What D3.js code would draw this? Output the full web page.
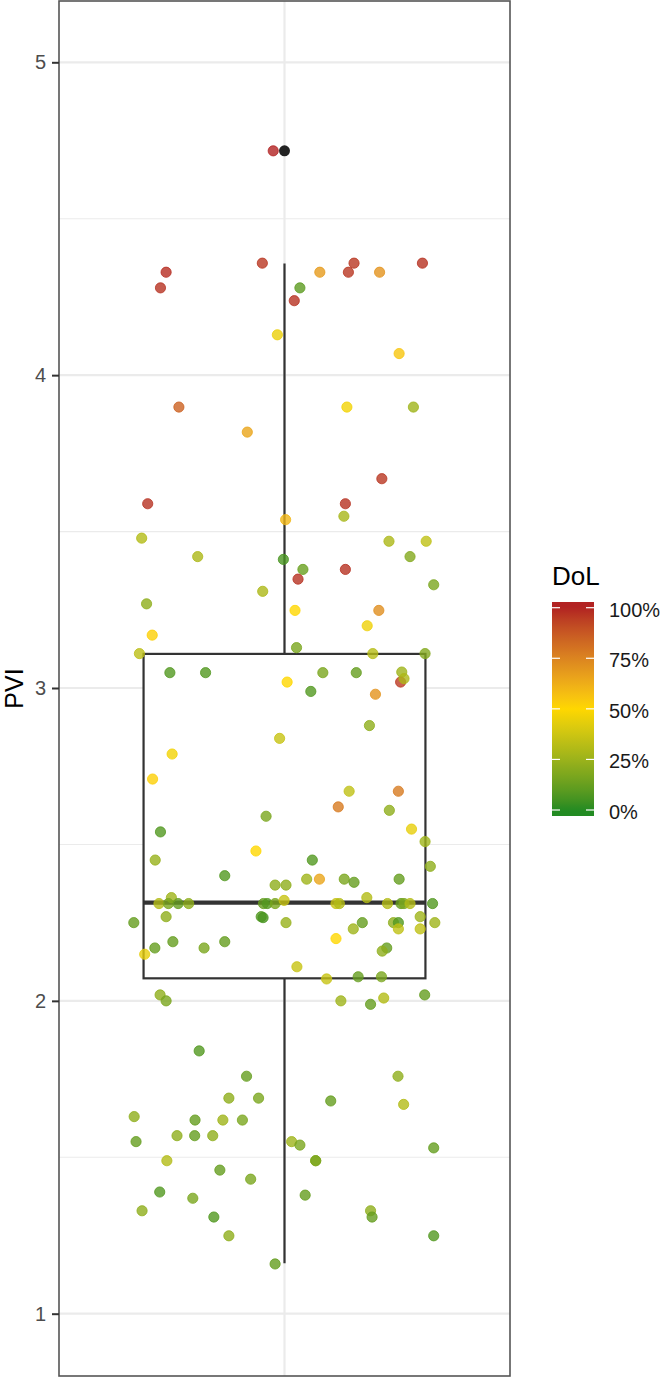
<!DOCTYPE html>
<html>
<head>
<meta charset="utf-8">
<script src="https://cdn.jsdelivr.net/npm/d3@7"></script>
<style>
  html, body { margin: 0; padding: 0; background: #fff; }
  svg { display: block; font-family: "Liberation Sans", Arial, Helvetica, sans-serif; }
</style>
</head>
<body>
<svg id="chart" width="664" height="1377"></svg>
<script>
// ---- Data ----
const yTicks = [1, 2, 3, 4, 5];
const yMinor = [1.5, 2.5, 3.5, 4.5];
const legendTicks = [0, 0.25, 0.5, 0.75, 1];
const legendLabels = ["0%", "25%", "50%", "75%", "100%"];
// boxplot statistics: [lower whisker, Q1, median, Q3, upper whisker]
const boxStats = [1.161, 2.072, 2.314, 3.109, 4.357];
const outliers = [4.717];

// jittered x offset, PVI value, DoL value
const jitter = [
 -0.030,-0.315,-0.330,-0.059, 0.094, 0.185, 0.170, 0.253, 0.367, 0.041,
  0.026,-0.019, 0.305,-0.281,-0.099, 0.166, 0.343, 0.259,-0.364, 0.162,
  0.158, 0.003,-0.380, 0.278, 0.377,-0.231,-0.003, 0.334, 0.049, 0.036,
  0.162, 0.397,-0.058,-0.367, 0.028, 0.251, 0.220,-0.352, 0.032,-0.386,
  0.235, 0.374,-0.305,-0.210, 0.102, 0.191, 0.312, 0.309, 0.318, 0.007,
  0.070, 0.242, 0.226,-0.013,-0.299,-0.351, 0.172, 0.303, 0.143, 0.279,
 -0.049, 0.338, 0.374,-0.330,-0.076,-0.344, 0.074, 0.388,-0.159, 0.059,
  0.093, 0.159, 0.185, 0.305,-0.025, 0.004,-0.334,-0.301,-0.309,-0.283,
 -0.255,-0.056,-0.046,-0.025,-0.001, 0.137, 0.146, 0.219, 0.274, 0.310,
  0.318, 0.334, 0.394,-0.401,-0.315,-0.062,-0.057, 0.004, 0.207, 0.290,
  0.303, 0.361, 0.400, 0.183, 0.303, 0.361, 0.137,-0.297,-0.159,-0.345,
 -0.214,-0.372, 0.272, 0.260, 0.033, 0.112, 0.196, 0.258,-0.331,-0.315,
  0.150, 0.229, 0.264, 0.373,-0.227,-0.101, 0.302,-0.148,-0.069, 0.123,
  0.317,-0.400,-0.238,-0.164,-0.112,-0.395,-0.286,-0.239,-0.191, 0.019,
  0.041, 0.397,-0.313, 0.083, 0.083,-0.172,-0.090,-0.332,-0.244, 0.055,
 -0.379, 0.229, 0.233,-0.188,-0.148, 0.397,-0.025
];
const pvi = [
 4.717,4.329,4.279,4.358,4.329,4.358,4.329,4.329,4.358,4.279,
 4.238,4.129,4.069,3.898,3.818,3.898,3.898,3.669,3.589,3.589,
 3.549,3.538,3.479,3.469,3.469,3.420,3.411,3.420,3.379,3.348,
 3.379,3.330,3.309,3.269,3.248,3.248,3.199,3.169,3.129,3.110,
 3.110,3.110,3.049,3.049,3.049,3.049,3.051,3.019,3.030,3.019,
 2.989,2.980,2.880,2.839,2.789,2.709,2.670,2.670,2.620,2.609,
 2.590,2.549,2.509,2.540,2.479,2.450,2.450,2.430,2.400,2.389,
 2.389,2.389,2.379,2.389,2.370,2.370,2.311,2.330,2.311,2.311,
 2.311,2.311,2.311,2.311,2.321,2.311,2.311,2.330,2.311,2.311,
 2.311,2.311,2.311,2.250,2.269,2.269,2.266,2.250,2.250,2.250,
 2.250,2.269,2.250,2.230,2.230,2.230,2.199,2.189,2.189,2.169,
 2.169,2.149,2.169,2.159,2.109,2.070,2.077,2.077,2.019,2.000,
 2.000,1.989,2.009,2.019,1.840,1.759,1.759,1.689,1.689,1.680,
 1.669,1.630,1.619,1.619,1.619,1.550,1.569,1.569,1.569,1.550,
 1.539,1.530,1.489,1.489,1.489,1.459,1.430,1.389,1.369,1.379,
 1.329,1.329,1.309,1.309,1.249,1.249,1.159
];
const dol = [
 1.00,0.98,0.97,0.96,0.68,0.96,0.96,0.70,0.97,0.10,
 0.97,0.45,0.55,0.85,0.65,0.47,0.26,0.96,0.97,0.97,
 0.28,0.60,0.31,0.29,0.34,0.29,0.06,0.19,0.13,0.97,
 0.97,0.17,0.29,0.22,0.50,0.72,0.46,0.52,0.17,0.33,
 0.32,0.19,0.08,0.08,0.17,0.12,0.26,0.95,0.29,0.50,
 0.08,0.70,0.22,0.36,0.47,0.52,0.34,0.78,0.78,0.22,
 0.17,0.44,0.26,0.08,0.50,0.24,0.08,0.22,0.08,0.26,
 0.65,0.17,0.12,0.12,0.22,0.22,0.31,0.26,0.17,0.12,
 0.22,0.12,0.08,0.17,0.36,0.36,0.31,0.31,0.31,0.12,
 0.17,0.31,0.08,0.12,0.22,0.08,0.06,0.24,0.12,0.22,
 0.08,0.26,0.26,0.26,0.34,0.34,0.50,0.12,0.12,0.12,
 0.17,0.44,0.12,0.22,0.36,0.36,0.12,0.17,0.22,0.17,
 0.26,0.12,0.31,0.12,0.08,0.12,0.22,0.22,0.17,0.12,
 0.31,0.22,0.12,0.26,0.17,0.12,0.22,0.12,0.22,0.26,
 0.17,0.12,0.31,0.22,0.17,0.12,0.17,0.08,0.17,0.12,
 0.22,0.22,0.12,0.08,0.22,0.08,0.12
];

// ---- Layout ----
const svg = d3.select("#chart");
const panel = { left: 59, right: 510, top: 1, bottom: 1376 };

const x = d3.scaleLinear().domain([0.4, 1.6]).range([panel.left, panel.right]);
const y = d3.scaleLinear().domain([1, 5]).range([1313.7, 62.3]);
const color = d3.scaleLinear()
  .domain([0, 0.5, 1])
  .range(["#228B22", "#FFD700", "#B22222"])
  .interpolate(d3.interpolateLab)
  .clamp(true);

// panel background
svg.append("rect")
  .attr("x", panel.left).attr("y", panel.top)
  .attr("width", panel.right - panel.left).attr("height", panel.bottom - panel.top)
  .attr("fill", "#fff");

// grid
const grid = svg.append("g");
grid.selectAll("line.minor").data(yMinor).join("line")
  .attr("x1", panel.left).attr("x2", panel.right)
  .attr("y1", d => y(d)).attr("y2", d => y(d))
  .attr("stroke", "#EBEBEB").attr("stroke-width", 1.1);
grid.selectAll("line.major").data(yTicks).join("line")
  .attr("x1", panel.left).attr("x2", panel.right)
  .attr("y1", d => y(d)).attr("y2", d => y(d))
  .attr("stroke", "#EBEBEB").attr("stroke-width", 2.2);
grid.append("line")
  .attr("x1", x(1)).attr("x2", x(1))
  .attr("y1", panel.top).attr("y2", panel.bottom)
  .attr("stroke", "#EBEBEB").attr("stroke-width", 2.2);

// boxplot
const [wLo, q1, med, q3, wHi] = boxStats;
const bw = 0.75;
const box = svg.append("g");
box.append("line")
  .attr("x1", x(1)).attr("x2", x(1)).attr("y1", y(q3)).attr("y2", y(wHi))
  .attr("stroke", "#333").attr("stroke-width", 2.2);
box.append("line")
  .attr("x1", x(1)).attr("x2", x(1)).attr("y1", y(q1)).attr("y2", y(wLo))
  .attr("stroke", "#333").attr("stroke-width", 2.2);
box.append("rect")
  .attr("x", x(1 - bw / 2)).attr("width", x(1 + bw / 2) - x(1 - bw / 2))
  .attr("y", y(q3)).attr("height", y(q1) - y(q3))
  .attr("fill", "#fff").attr("stroke", "#333").attr("stroke-width", 2.2);
box.append("line")
  .attr("x1", x(1 - bw / 2)).attr("x2", x(1 + bw / 2))
  .attr("y1", y(med)).attr("y2", y(med))
  .attr("stroke", "#333").attr("stroke-width", 4.4);
box.selectAll("circle").data(outliers).join("circle")
  .attr("cx", x(1)).attr("cy", d => y(d)).attr("r", 5.5)
  .attr("fill", "#222");

// jittered points
const pts = jitter.map((j, i) => ({ j, v: pvi[i], d: dol[i] }));
svg.append("g").selectAll("circle").data(pts).join("circle")
  .attr("cx", d => x(1 + d.j))
  .attr("cy", d => y(d.v))
  .attr("r", 5.1)
  .attr("fill", d => color(d.d)).attr("fill-opacity", 0.8)
  .attr("stroke", d => color(d.d)).attr("stroke-opacity", 0.8).attr("stroke-width", 1);

// panel border
svg.append("rect")
  .attr("x", panel.left).attr("y", panel.top)
  .attr("width", panel.right - panel.left).attr("height", panel.bottom - panel.top)
  .attr("fill", "none").attr("stroke", "#555").attr("stroke-width", 1.6);

// y axis
const yAxis = d3.axisLeft(y).tickValues(yTicks).tickSize(7).tickPadding(6).tickFormat(d3.format("d"));
const ya = svg.append("g").attr("transform", `translate(${panel.left},0)`).call(yAxis);
ya.select(".domain").remove();
ya.selectAll(".tick line").attr("stroke", "#333").attr("stroke-width", 2);
ya.selectAll(".tick text")
  .attr("fill", "#4D4D4D")
  .style("font-size", "20px")
  .style("font-family", "'Liberation Sans', Arial, sans-serif");

svg.append("text")
  .attr("transform", `translate(23,${(panel.top + panel.bottom) / 2}) rotate(-90)`)
  .attr("text-anchor", "middle")
  .style("font-size", "25px")
  .attr("fill", "#000")
  .text("PVI");

// legend (colour bar)
const lg = svg.append("g");
const barX = 552, barW = 42, barTop = 602, barBot = 816;
const ly = d3.scaleLinear().domain([0, 1]).range([810, 607.7]);
const defs = svg.append("defs");
const grad = defs.append("linearGradient").attr("id", "dolgrad")
  .attr("x1", 0).attr("y1", 1).attr("x2", 0).attr("y2", 0);
d3.range(0, 1.0001, 0.02).forEach(t => {
  const v = ly.invert(barBot - t * (barBot - barTop));
  grad.append("stop").attr("offset", t).attr("stop-color", color(v));
});
lg.append("text")
  .attr("x", barX).attr("y", 585)
  .style("font-size", "26px").attr("fill", "#000")
  .text("DoL");
lg.append("rect")
  .attr("x", barX).attr("y", barTop).attr("width", barW).attr("height", barBot - barTop)
  .attr("fill", "url(#dolgrad)");
lg.selectAll("line.tl").data(legendTicks).join("line")
  .attr("x1", barX).attr("x2", barX + 8)
  .attr("y1", d => ly(d)).attr("y2", d => ly(d))
  .attr("stroke", "#fff").attr("stroke-width", 1.2);
lg.selectAll("line.tr").data(legendTicks).join("line")
  .attr("x1", barX + barW - 8).attr("x2", barX + barW)
  .attr("y1", d => ly(d)).attr("y2", d => ly(d))
  .attr("stroke", "#fff").attr("stroke-width", 1.2);
lg.selectAll("text.lab").data(legendTicks).join("text")
  .attr("x", 609).attr("y", d => ly(d) + 2)
  .attr("dominant-baseline", "central")
  .style("font-size", "20px").attr("fill", "#1a1a1a")
  .text((d, i) => legendLabels[i]);
</script>
</body>
</html>
